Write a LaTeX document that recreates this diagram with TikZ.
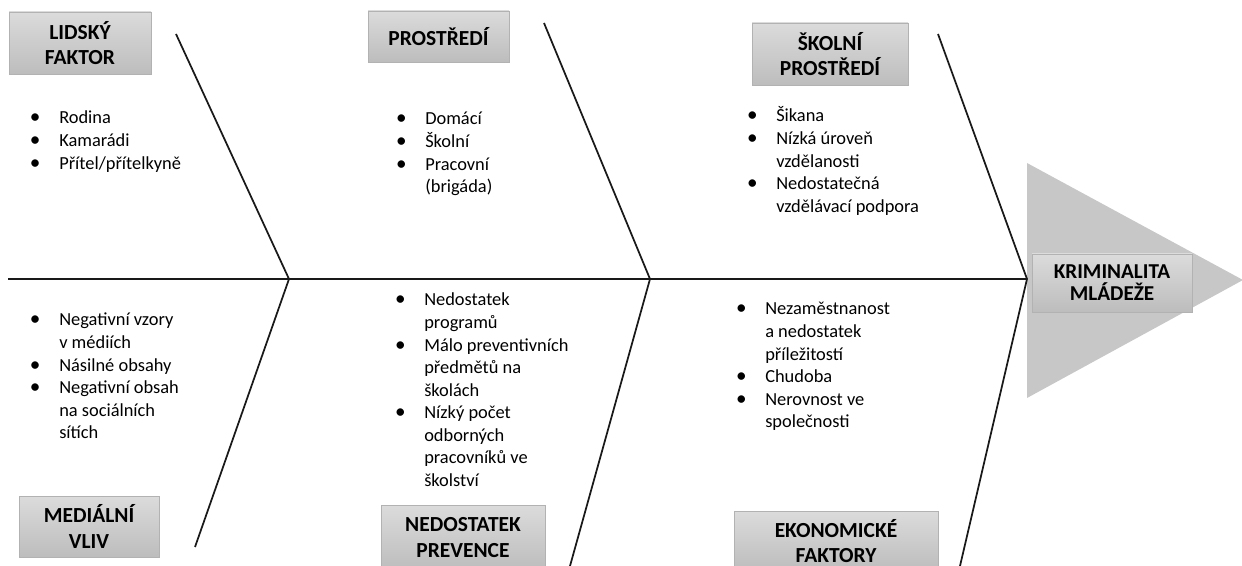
\documentclass[tikz,border=0pt]{standalone}
\usepackage{fontspec}
\setmainfont{Carlito}
\begin{document}
\begin{tikzpicture}[x=0.75pt,y=-0.75pt,
  bone/.style={draw=black!90, line width=1.3pt},
  hdr/.style={draw=black!30, line width=0.6pt, top color=black!14, bottom color=black!26,
    align=center, font=\fontsize{16.1}{18.8}\selectfont\bfseries, inner sep=0pt},
  lst/.style={anchor=base west, inner sep=0pt, font=\fontsize{13.8}{16.9}\selectfont},
  headtri/.style={fill=black!22, draw=none}]
\useasboundingbox (0,0) rectangle (1242,566);
% spine coordinates
\coordinate (spL) at (8,279);
\coordinate (j1) at (289,279);
\coordinate (j2) at (650,279);
\coordinate (j3) at (1027,279);
\coordinate (t1) at (176,34);
\coordinate (t2) at (544,23);
\coordinate (t3) at (938,34);
\coordinate (b1) at (195,547);
\coordinate (b2) at (570,566);
\coordinate (b3) at (960,566);
\coordinate (triT) at (1027,163);
\coordinate (triB) at (1027,398);
\coordinate (triR) at (1243,280);
% head triangle
\fill[headtri] (triT) -- (triR) -- (triB) -- cycle;
% bones
\draw[bone] (spL) -- (j3);
\draw[bone] (t1) -- (j1) -- (b1);
\draw[bone] (t2) -- (j2) -- (b2);
\draw[bone] (t3) -- (j3) -- (b3);
% header boxes
\node[hdr, minimum width=106.5pt, minimum height=46.5pt] (lidsky) at (80,43) {LIDSKÝ\\FAKTOR};
\node[hdr, minimum width=105.75pt, minimum height=38.25pt] (prostr) at (438.5,36.5) {PROSTŘEDÍ};
\node[hdr, minimum width=117pt, minimum height=46.5pt] (skolni) at (830,54) {ŠKOLNÍ\\PROSTŘEDÍ};
\node[hdr, minimum width=105pt, minimum height=45.75pt] (media) at (89,526.5) {MEDIÁLNÍ\\VLIV};
\node[hdr, minimum width=123pt, minimum height=48.75pt] (prev) at (463,537.5) {NEDOSTATEK\\PREVENCE};
\node[hdr, minimum width=153pt, minimum height=45pt] (ekon) at (836,541) {EKONOMICKÉ\\FAKTORY};
\node[hdr, minimum width=120pt, minimum height=43.5pt, font=\fontsize{15.9}{16.5}\selectfont\bfseries] (krim) at (1112,283) {KRIMINALITA\\MLÁDEŽE};
% bullet lists
\newcommand{\bl}{\makebox[18pt][l]{\makebox[0pt]{\scalebox{1.15}{\textbullet}}}}
\node[lst] (l1) at (35,124) {\begin{tabular}[t]{@{}l@{}l@{}}
\bl & Rodina\\ \bl & Kamarádi\\ \bl & Přítel/přítelkyně\end{tabular}};
\node[lst] (l2) at (401,125) {\begin{tabular}[t]{@{}l@{}l@{}}
\bl & Domácí\\ \bl & Školní\\ \bl & Pracovní\\ & (brigáda)\end{tabular}};
\node[lst] (l3) at (752,122) {\begin{tabular}[t]{@{}l@{}l@{}}
\bl & Šikana\\ \bl & Nízká úroveň\\ & vzdělanosti\\ \bl & Nedostatečná\\ & vzdělávací podpora\end{tabular}};
\node[lst] (l4) at (35,326) {\begin{tabular}[t]{@{}l@{}l@{}}
\bl & Negativní vzory\\ & v médiích\\ \bl & Násilné obsahy\\ \bl & Negativní obsah\\ & na sociálních\\ & sítích\end{tabular}};
\node[lst] (l5) at (400,306) {\begin{tabular}[t]{@{}l@{}l@{}}
\bl & Nedostatek\\ & programů\\ \bl & Málo preventivních\\ & předmětů na\\ & školách\\ \bl & Nízký počet\\ & odborných\\ & pracovníků ve\\ & školství\end{tabular}};
\node[lst] (l6) at (741,315) {\begin{tabular}[t]{@{}l@{}l@{}}
\bl & Nezaměstnanost\\ & a nedostatek\\ & příležitostí\\ \bl & Chudoba\\ \bl & Nerovnost ve\\ & společnosti\end{tabular}};
\end{tikzpicture}
\end{document}
